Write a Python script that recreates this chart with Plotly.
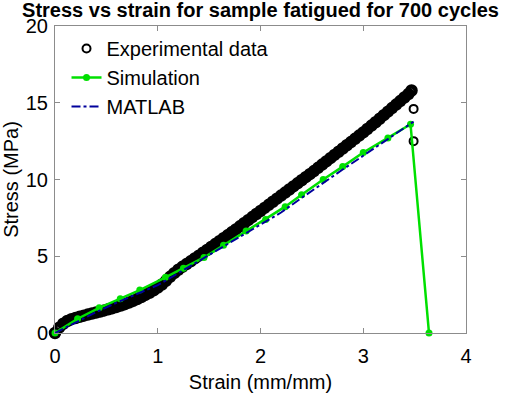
import plotly.graph_objects as go

exp_strain = [0.00, 0.04, 0.08, 0.12, 0.16, 0.20, 0.24, 0.28, 0.32, 0.36, 0.40, 0.44, 0.48, 0.52,
              0.56, 0.60, 0.64, 0.68, 0.72, 0.76, 0.80, 0.84, 0.88, 0.92, 0.96, 1.00, 1.04, 1.08,
              1.12, 1.16, 1.20, 1.24, 1.28, 1.32, 1.36, 1.40, 1.44, 1.48, 1.52, 1.56, 1.60, 1.64,
              1.68, 1.72, 1.76, 1.80, 1.84, 1.88, 1.92, 1.96, 2.00, 2.04, 2.08, 2.12, 2.16, 2.20,
              2.24, 2.28, 2.32, 2.36, 2.40, 2.44, 2.48, 2.52, 2.56, 2.60, 2.64, 2.68, 2.72, 2.76,
              2.80, 2.84, 2.88, 2.92, 2.96, 3.00, 3.04, 3.08, 3.12, 3.16, 3.20, 3.24, 3.28, 3.32,
              3.36, 3.40, 3.44, 3.47]
exp_stress = [0.00, 0.35, 0.60, 0.78, 0.90, 0.98, 1.06, 1.13, 1.20, 1.27, 1.33, 1.40, 1.47, 1.54,
              1.62, 1.70, 1.79, 1.88, 1.98, 2.09, 2.21, 2.34, 2.48, 2.62, 2.78, 2.96, 3.16, 3.40,
              3.66, 3.90, 4.12, 4.31, 4.49, 4.67, 4.86, 5.04, 5.23, 5.41, 5.60, 5.79, 5.98, 6.17,
              6.36, 6.56, 6.75, 6.95, 7.15, 7.35, 7.55, 7.75, 7.95, 8.15, 8.35, 8.55, 8.75, 8.95,
              9.15, 9.35, 9.55, 9.75, 9.95, 10.15, 10.35, 10.55, 10.76, 10.97, 11.18, 11.39, 11.60, 11.81,
              12.02, 12.23, 12.44, 12.65, 12.86, 13.07, 13.29, 13.51, 13.73, 13.96, 14.19, 14.42, 14.65, 14.88,
              15.11, 15.34, 15.57, 15.80]
# failure points after the peak
fail_strain = [3.49, 3.49, 3.49]
fail_stress = [14.6, 12.5, -0.05]

# Simulation
sim_strain = [0.0, 0.22, 0.43, 0.635, 0.825, 1.075, 1.25, 1.45, 1.64, 1.86, 2.05, 2.24, 2.40,
              2.61, 2.80, 3.00, 3.24, 3.46, 3.64]
sim_stress = [0.0, 0.93, 1.64, 2.23, 2.80, 3.63, 4.22, 4.92, 5.71, 6.64, 7.39, 8.23, 9.00,
              10.0, 10.84, 11.76, 12.71, 13.60, 0.0]

# MATLAB
mat_strain = [0.0, 0.2, 0.4, 0.6, 0.8, 1.0, 1.2, 1.4, 1.6, 1.8, 2.0, 2.2, 2.4, 2.6, 2.8, 3.0, 3.2, 3.49]
mat_stress = [0.0, 0.68, 1.36, 1.98, 2.56, 3.12, 3.90, 4.70, 5.50, 6.30, 7.05, 7.85, 8.80, 9.75,
              10.65, 11.55, 12.45, 13.77]

x_ticks = [0, 1, 2, 3, 4]
y_ticks = [0, 5, 10, 15, 20]

FONT = "Liberation Sans, Arial, sans-serif"
GREEN = "#00e000"
NAVY = "#00009c"
AXIS = "#8c8c8c"

fig = go.Figure()
fig.add_trace(go.Scatter(
    x=fail_strain, y=fail_stress, mode="markers", name="Experimental data",
    legendgroup="a", cliponaxis=False,
    marker=dict(symbol="circle-open", size=8, color="black", line=dict(width=2, color="black")),
))
fig.add_trace(go.Scatter(
    x=exp_strain, y=exp_stress, mode="markers", name="Experimental data",
    legendgroup="a", showlegend=False, cliponaxis=False,
    marker=dict(symbol="circle-open", size=8, color="black", line=dict(width=4.5, color="black")),
))
fig.add_trace(go.Scatter(
    x=sim_strain, y=sim_stress, mode="lines+markers", name="Simulation",
    legendgroup="b", cliponaxis=False,
    line=dict(color=GREEN, width=2.5),
    marker=dict(symbol="circle", size=7, color=GREEN),
))
fig.add_trace(go.Scatter(
    x=mat_strain, y=mat_stress, mode="lines", name="MATLAB",
    legendgroup="c", cliponaxis=False,
    line=dict(color=NAVY, width=2, dash="dashdot"),
))

axis_common = dict(
    showline=True, linecolor=AXIS, linewidth=1, mirror="ticks",
    ticks="inside", ticklen=5, tickcolor=AXIS, tickwidth=1,
    showgrid=False, zeroline=False, automargin=False,
    tickfont=dict(family=FONT, size=20, color="black"),
)
fig.update_layout(
    width=505, height=393,
    margin=dict(l=55, r=39, t=26, b=60),
    paper_bgcolor="white", plot_bgcolor="white",
    font=dict(family=FONT, color="black"),
    title=dict(text="<b>Stress vs strain for sample fatigued for 700 cycles</b>",
               font=dict(family=FONT, size=20, color="black"),
               xref="paper", x=0.5, xanchor="center",
               yref="container", y=1 - 9.5 / 393, yanchor="middle", automargin=False),
    xaxis=dict(range=[0, 4], tickvals=x_ticks, ticklabelstandoff=5,
               title=dict(text="Strain (mm/mm)", font=dict(family=FONT, size=20)),
               **axis_common),
    yaxis=dict(range=[0, 20], tickvals=y_ticks, ticklabelstandoff=2,
               title=dict(text="Stress (MPa)", font=dict(family=FONT, size=20)),
               **axis_common),
    legend=dict(x=0.028, y=0.99, xanchor="left", yanchor="top",
                bgcolor="rgba(0,0,0,0)", borderwidth=0,
                font=dict(family=FONT, size=20, color="black"),
                traceorder="grouped", tracegroupgap=0),
    showlegend=True,
)
fig.write_html("out.html", config={"displayModeBar": False},
               post_script="document.body.style.margin='0px';")
